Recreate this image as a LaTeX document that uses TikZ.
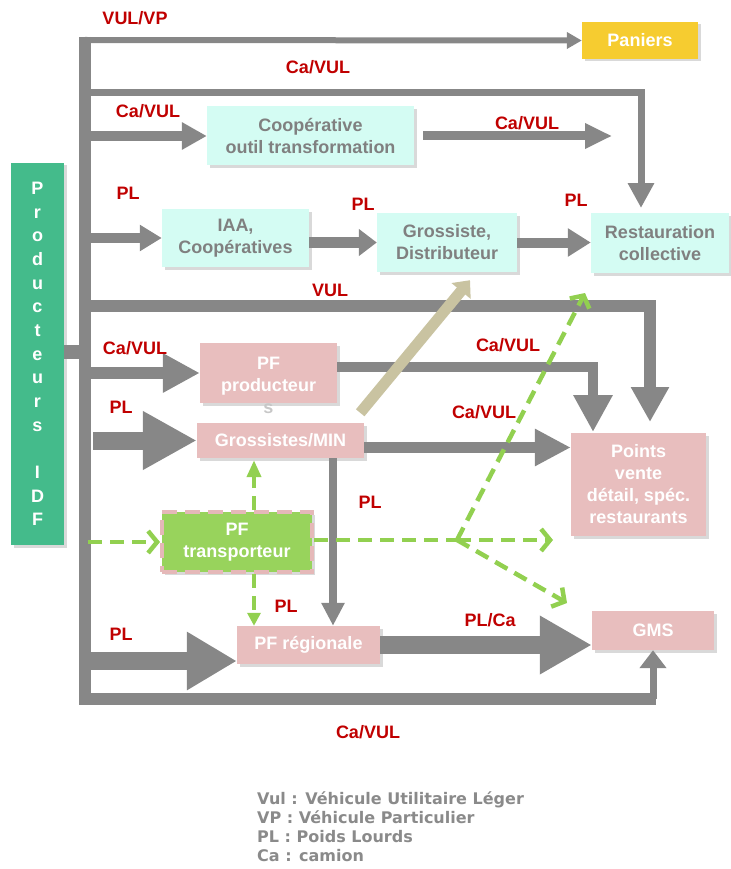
\documentclass[tikz,border=0pt]{standalone}
\usepackage{fontspec}
\setmainfont{Liberation Sans}
\newfontfamily\legfont{DejaVu Sans}
\usetikzlibrary{arrows.meta,shadows}

\definecolor{flowgray}{HTML}{878787}
\definecolor{pinkfill}{HTML}{E8BEBE}
\definecolor{cyanfill}{HTML}{D4FCF3}
\definecolor{panfill}{HTML}{F6CC30}
\definecolor{prodfill}{HTML}{44BB8B}
\definecolor{pftfill}{HTML}{98D35C}
\definecolor{pftborder}{HTML}{E5B8B8}
\definecolor{dashgreen}{HTML}{92D050}
\definecolor{labred}{HTML}{C00000}
\definecolor{boxgray}{HTML}{808080}
\definecolor{tanfill}{HTML}{C9C3A1}
\definecolor{leggray}{HTML}{8A8A8A}

\begin{document}
\begin{tikzpicture}[x=1pt,y=-1pt,
  box/.style={inner sep=0pt, align=center, font=\fontsize{18}{22}\selectfont\bfseries,
    drop shadow={shadow xshift=2.5pt, shadow yshift=-2.5pt, opacity=.3}},
  cyanbox/.style={box, fill=cyanfill, text=boxgray},
  pinkbox/.style={box, fill=pinkfill, text=white},
  lab/.style={text=labred, font=\fontsize{18}{22}\selectfont\bfseries},
  flow/.style={draw=flowgray, line width=#1, line join=miter},
  gdash/.style={draw=dashgreen, line width=4.5pt, dash pattern=on 14pt off 8pt},
  barb/.style={-{Straight Barb[length=9pt,width=22pt]}}]

\useasboundingbox (0,0) rectangle (730,869);

% boxes
\node[box, fill=prodfill, text=white, minimum width=53pt, minimum height=382pt,
  font=\fontsize{18}{23.64}\selectfont\bfseries]
  (prod) at (37.5,354) {P\\r\\o\\d\\u\\c\\t\\e\\u\\r\\s\\ \\I\\D\\F};
\node[box, fill=panfill, text=white, minimum width=116pt, minimum height=37pt] (pan) at (640,40.5) {Paniers};
\node[cyanbox, minimum width=207pt, minimum height=59pt] (coop) at (310.5,136) {Coopérative\\outil transformation};
\node[cyanbox, minimum width=147pt, minimum height=58pt] (iaa) at (235.5,238) {IAA,\\Coopératives};
\node[cyanbox, minimum width=140pt, minimum height=59pt] (gros) at (447,242.5) {Grossiste,\\Distributeur};
\node[cyanbox, minimum width=138pt, minimum height=60pt] (rest) at (660,243) {Restauration\\collective};
\node[pinkbox, minimum width=137pt, minimum height=60pt] (pfp) at (268.5,373) {};
\node[inner sep=0pt, align=center, text=white, font=\fontsize{18}{22}\selectfont\bfseries]
  (pfpt) at ([yshift=-12pt]pfp.center) {PF\\producteur\\\textcolor{black!22}{s}};
\node[pinkbox, minimum width=167pt, minimum height=35pt] (min) at (280.5,440.5) {Grossistes/MIN};
\node[pinkbox, minimum width=135pt, minimum height=103pt] (pv) at (638.5,484.5) {Points\\vente\\détail, spéc.\\restaurants};
\node[box, fill=pftfill, text=white, draw=pftborder, line width=4pt, dash pattern=on 15pt off 8pt,
  minimum width=150pt, minimum height=60pt] (pft) at (237,542) {PF\\transporteur};
\node[pinkbox, minimum width=143pt, minimum height=38pt] (pfr) at (308.5,645) {PF régionale};
\node[pinkbox, minimum width=122pt, minimum height=39pt] (gms) at (653,630.5) {GMS};

% points on the main bar
\coordinate (b1) at (85,40);
\coordinate (b3) at (85,136);
\coordinate (b5) at (85,238);
\coordinate (b9) at (85,373);
\coordinate (b11) at (93,440.5);
\coordinate (b15) at (88,542);
\coordinate (b19) at (85,661);
\coordinate (c4) at (612,136);
\coordinate (r2) at (641,208);
\coordinate (p8) at (650,422);
\coordinate (p10) at (593,432);
\coordinate (m14) at (333,0);
\coordinate (g16) at (254,0);
\coordinate (fork) at (457,540);
\coordinate (t1) at (553,540);
\coordinate (t2) at (585,293);
\coordinate (t3) at (567,603);

% main bar
\draw[flow=12pt] (85,37) -- (85,699) -- (656,699);
\draw[flow=14pt] (prod.east |- 0,352) -- (85,352);
\draw[flow=7pt, -{Triangle[length=18pt,width=26pt]}] (653,699) -- (gms.south);

% gray flows
\draw[flow=6pt, -{Triangle[length=15pt,width=16pt]}] (b1) -- (pan.west);
\draw[flow=7pt, -{Triangle[length=25pt,width=25pt]}] (85,93) -- (641,93) -- (r2);
\draw[flow=10pt, -{Triangle[length=25pt,width=26pt]}] (b3) -- (coop.west);
\draw[flow=9pt, -{Triangle[length=27pt,width=24pt]}] ([xshift=9pt]coop.east) -- (c4);
\draw[flow=10pt, -{Triangle[length=22pt,width=25pt]}] (b5) -- (iaa.west);
\draw[flow=11pt, -{Triangle[length=18pt,width=26pt]}] (iaa.east |- gros.west) -- (gros.west);
\draw[flow=10pt, -{Triangle[length=23pt,width=27pt]}] (gros.east) -- (gros.east -| rest.west);
\draw[flow=12pt, -{Triangle[length=35pt,width=36pt]}] (85,306) -- (650,306) -- (p8);
\draw[flow=12pt, -{Triangle[length=37pt,width=37pt]}] (b9) -- (pfp.west);
\draw[flow=10pt, -{Triangle[length=37pt,width=37pt]}] ([yshift=6pt]pfp.east) -- (593,367) -- (p10);
\draw[flow=18pt, -{Triangle[length=54pt,width=55pt]}] (b11) -- (min.west);
\draw[flow=11pt, -{Triangle[length=36pt,width=35pt]}] ([yshift=-7pt]min.east) -- ([yshift=-7pt]min.east -| pv.west);
\draw[flow=8pt, -{Triangle[length=23pt,width=22pt]}] (min.south -| m14) -- (pfr.north -| m14);
\draw[flow=18pt, -{Triangle[length=50pt,width=55pt]}] (b19) -- (b19 -| pfr.west);
\draw[flow=18pt, -{Triangle[length=52pt,width=55pt]}] (pfr.east) -- (pfr.east -| gms.west);
\draw[draw=tanfill, line width=11pt, -{Triangle[length=14pt,width=24pt]}]
  ([shift={(-4,-10)}]min.north east) -- ([shift={(23,8)}]gros.south);

% green dashed flows
\draw[gdash, barb] (b15) -- (pft.west);
\draw[gdash, line width=4pt, -{Triangle[length=17pt,width=14pt]}] (pft.north -| g16) -- ([yshift=-2pt]min.south -| g16);
\draw[gdash, line width=3.5pt, -{Triangle[length=13pt,width=13pt]}] (pft.south -| g16) -- (pfr.north -| g16);
\draw[gdash] (pft.east |- fork) -- (fork);
\draw[gdash, barb] (fork) -- (t1);
\draw[gdash, barb] (fork) -- (t2);
\draw[gdash, barb] (fork) -- (t3);

% labels
\node[lab] (l1) at (135,18) {VUL/VP};
\node[lab] (l2) at (318,67) {Ca/VUL};
\node[lab] (l3) at (148,111) {Ca/VUL};
\node[lab] (l4) at (527,123) {Ca/VUL};
\node[lab] (l5) at (128,193) {PL};
\node[lab] (l6) at (363,204) {PL};
\node[lab] (l7) at (576,200) {PL};
\node[lab] (l8) at (330,290) {VUL};
\node[lab] (l9) at (135,348) {Ca/VUL};
\node[lab] (l10) at (508,345) {Ca/VUL};
\node[lab] (l11) at (121,407) {PL};
\node[lab] (l12) at (484,412) {Ca/VUL};
\node[lab] (l13) at (370,502) {PL};
\node[lab] (l14) at (286,606) {PL};
\node[lab] (l15) at (121,634) {PL};
\node[lab] (l16) at (490,620) {PL/Ca};
\node[lab] (l17) at (368,732) {Ca/VUL};

% legend
\node[anchor=north west, align=left, text=leggray, inner sep=0pt,
  font=\legfont\fontsize{16}{19.3}\selectfont\bfseries] (leg) at (257,791)
  {Vul : Véhicule Utilitaire Léger\\VP : Véhicule Particulier\\PL : Poids Lourds\\Ca : camion};

\end{tikzpicture}
\end{document}
